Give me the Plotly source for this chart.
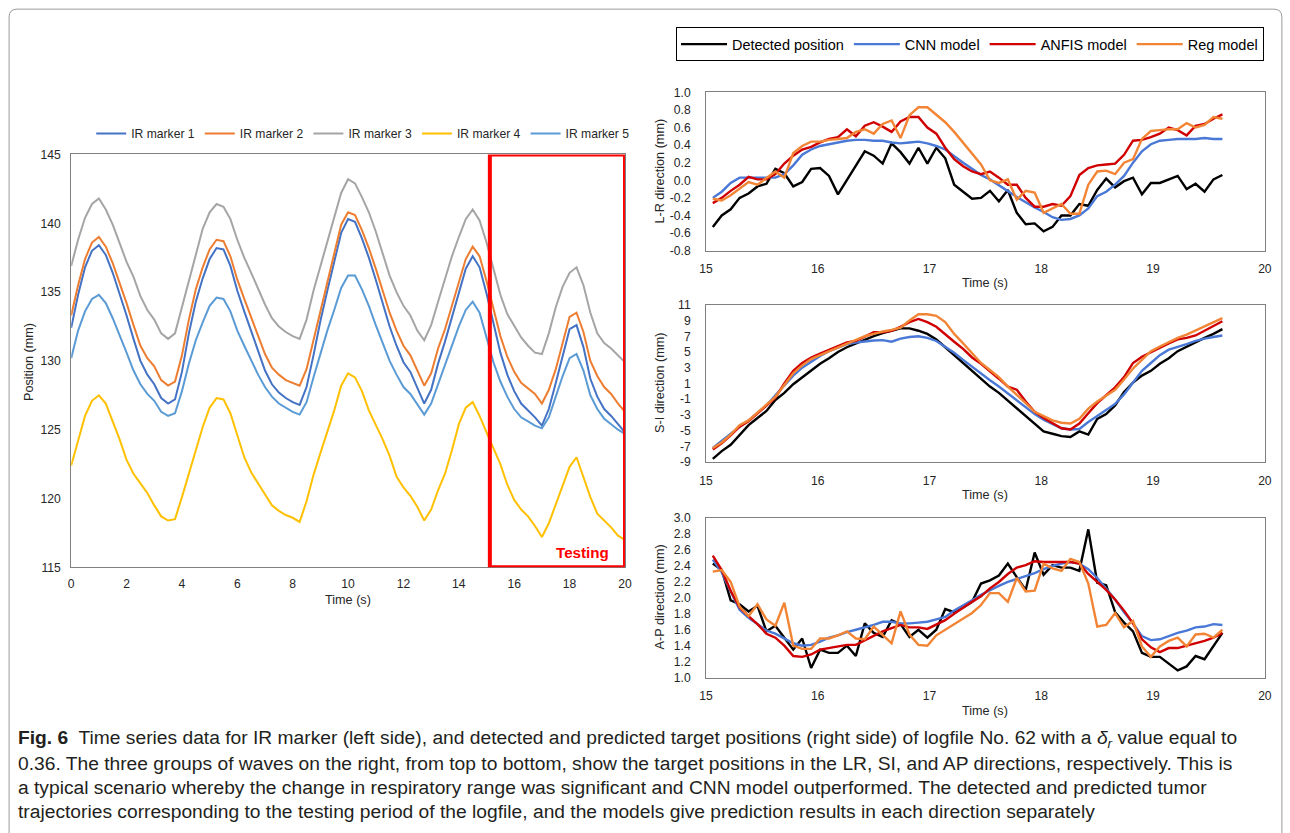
import plotly.graph_objects as go

# Figure size; the viewer shows the page (with its 8px body margin) scaled into the
# 1290x833 picture, so target picture positions are converted to figure paper fractions.
W, H = 1290, 833
PAGE_W, PAGE_H, BODY = W + 16, H + 16, 8
def px(t):
    return (t * PAGE_W / W - BODY) / W
def py(t):
    return 1 - (t * PAGE_H / H - BODY) / H
FS = PAGE_W / W  # font compensation

# ---------------- Left chart data (IR markers) ----------------
t_left = [i * 0.25 for i in range(81)]

ir_marker_1 = [132.4,134.8,136.8,138.0,138.4,137.7,136.4,134.9,133.3,131.6,
               130.0,129.0,128.3,127.3,126.9,127.2,129.2,132.0,134.3,136.0,
               137.4,138.2,138.1,136.9,135.1,133.6,132.2,130.7,129.3,128.3,
               127.7,127.3,127.0,126.8,128.1,130.4,132.9,135.1,137.3,139.3,
               140.3,140.1,138.9,137.5,135.9,134.2,132.5,131.1,129.9,129.2,
               128.0,126.9,127.9,129.8,131.4,133.2,135.1,136.7,137.6,136.8,
               134.9,132.7,130.6,129.0,127.8,126.9,126.4,125.9,125.3,126.5,
               128.4,130.3,132.3,132.6,131.0,128.7,127.4,126.5,126.0,125.4,
               124.8]
ir_marker_2 = [133.3,135.5,137.4,138.6,139.0,138.3,137.1,135.7,134.2,132.6,
               131.1,130.2,129.6,128.6,128.2,128.5,130.4,133.0,135.2,136.8,
               138.1,138.8,138.7,137.6,135.9,134.5,133.2,131.8,130.5,129.5,
               129.0,128.6,128.4,128.2,129.4,131.5,133.8,135.9,138.0,139.9,
               140.8,140.6,139.5,138.2,136.7,135.1,133.5,132.2,131.1,130.4,
               129.3,128.2,129.1,130.9,132.3,134.0,135.8,137.4,138.3,137.6,
               135.8,133.8,131.8,130.3,129.2,128.4,128.0,127.6,126.9,127.9,
               129.4,131.2,133.2,133.5,132.1,130.0,128.9,128.1,127.6,126.9,
               126.3]
ir_marker_3 = [136.9,138.8,140.4,141.4,141.8,141.0,139.9,138.6,137.2,136.1,
               134.7,133.7,133.0,132.0,131.6,132.0,133.9,136.0,137.9,139.6,
               140.8,141.4,141.2,140.3,138.8,137.5,136.4,135.2,134.1,133.1,
               132.5,132.1,131.8,131.6,133.0,135.1,136.9,138.8,140.5,142.2,
               143.2,142.9,141.9,140.8,139.4,137.8,136.2,135.0,134.0,133.3,
               132.2,131.5,132.6,134.3,136.0,137.6,139.0,140.3,141.0,140.2,
               138.6,136.6,134.8,133.4,132.5,131.7,131.1,130.6,130.5,132.0,
               133.9,135.4,136.4,136.8,135.5,133.5,132.0,131.3,130.9,130.4,
               129.9]
ir_marker_4 = [122.4,124.3,126.0,127.1,127.5,126.9,125.6,124.3,122.8,121.8,
               121.1,120.4,119.5,118.7,118.4,118.5,120.1,121.8,123.5,125.2,
               126.6,127.3,127.2,126.2,124.6,123.0,121.9,121.1,120.2,119.5,
               119.1,118.8,118.6,118.3,119.8,121.7,123.3,124.8,126.4,128.2,
               129.1,128.8,127.8,126.4,125.4,124.3,123.1,121.6,120.8,120.2,
               119.4,118.4,119.2,120.6,121.8,123.5,125.4,126.6,127.0,126.0,
               124.8,123.6,122.5,121.0,119.9,119.2,118.7,118.0,117.2,118.2,
               119.6,121.0,122.3,123.0,121.6,120.1,118.9,118.4,117.9,117.3,
               117.0]
ir_marker_5 = [130.2,132.2,133.6,134.5,134.8,134.2,133.1,131.9,130.6,129.3,
               128.3,127.6,127.1,126.3,126.0,126.2,127.8,129.8,131.5,132.8,
               134.0,134.6,134.5,133.6,132.2,131.1,130.0,129.0,128.1,127.4,
               126.9,126.6,126.3,126.1,127.0,128.8,130.6,132.2,133.7,135.3,
               136.2,136.2,135.2,134.0,132.6,131.3,130.0,129.0,128.1,127.6,
               126.8,126.1,126.9,128.3,129.6,131.0,132.5,133.7,134.3,133.5,
               131.6,129.9,128.5,127.4,126.5,125.9,125.6,125.3,125.1,125.9,
               127.4,128.9,130.2,130.5,129.3,127.5,126.5,125.8,125.4,125.0,
               124.7]
ir_names = ["IR marker 1", "IR marker 2", "IR marker 3", "IR marker 4", "IR marker 5"]
ir_colors = ["#4472C4", "#ED7D31", "#A5A5A5", "#FFC000", "#5B9BD5"]

left_xticks = [0, 2, 4, 6, 8, 10, 12, 14, 16, 18, 20]
left_yticks = [115, 120, 125, 130, 135, 140, 145]
testing_start = 15.12

# ---------------- Right charts data (testing period) ----------------
t_right = [round(15.06 + 0.08 * k, 2) for k in range(58)]

lr_detected = [-0.53,-0.40,-0.33,-0.20,-0.15,-0.07,-0.04,0.13,0.08,-0.07,
               -0.02,0.13,0.14,0.05,-0.16,0.00,0.17,0.33,0.28,0.19,
               0.42,0.32,0.19,0.37,0.19,0.37,0.25,-0.05,-0.13,-0.21,
               -0.20,-0.12,-0.24,-0.11,-0.37,-0.50,-0.49,-0.58,-0.53,-0.40,
               -0.40,-0.27,-0.29,-0.11,0.02,-0.08,-0.01,0.03,-0.16,-0.03,
               -0.03,0.01,0.05,-0.10,-0.04,-0.13,0.01,0.06]
lr_cnn = [-0.20,-0.13,-0.03,0.03,0.03,0.03,0.03,0.03,0.07,0.17,
          0.29,0.35,0.39,0.41,0.43,0.45,0.46,0.46,0.45,0.45,
          0.43,0.42,0.43,0.44,0.42,0.39,0.35,0.27,0.20,0.13,
          0.06,0.01,-0.06,-0.12,-0.19,-0.25,-0.31,-0.36,-0.42,-0.45,
          -0.44,-0.40,-0.32,-0.18,-0.13,-0.05,0.05,0.20,0.33,0.41,
          0.45,0.46,0.47,0.47,0.47,0.48,0.47,0.47]
lr_anfis = [-0.26,-0.20,-0.12,-0.05,0.04,0.01,0.01,0.07,0.19,0.28,
            0.35,0.38,0.43,0.47,0.49,0.58,0.50,0.62,0.66,0.61,
            0.55,0.67,0.72,0.72,0.60,0.53,0.37,0.24,0.16,0.10,
            0.07,0.10,0.03,-0.05,-0.05,-0.20,-0.30,-0.30,-0.27,-0.29,
            -0.18,0.06,0.14,0.17,0.18,0.19,0.29,0.45,0.46,0.49,
            0.53,0.60,0.57,0.51,0.62,0.64,0.70,0.75]
lr_reg = [-0.21,-0.23,-0.17,-0.10,-0.02,-0.05,0.03,0.10,0.03,0.31,
          0.39,0.44,0.44,0.46,0.47,0.48,0.55,0.58,0.53,0.64,
          0.68,0.48,0.74,0.83,0.83,0.74,0.66,0.55,0.43,0.30,
          0.18,0.00,-0.03,0.01,-0.22,-0.12,-0.14,-0.37,-0.32,-0.27,
          -0.38,-0.38,-0.05,0.10,0.11,0.07,0.20,0.24,0.47,0.56,
          0.57,0.58,0.58,0.65,0.60,0.63,0.72,0.70]

si_detected = [-8.6,-7.6,-6.8,-5.5,-4.3,-3.4,-2.5,-1.1,-0.2,0.9,
               1.8,2.7,3.5,4.2,5.0,5.6,6.1,6.6,7.0,7.4,
               7.7,8.0,8.0,7.7,7.3,6.6,5.6,4.6,3.6,2.6,
               1.7,0.6,-0.2,-1.2,-2.2,-3.2,-4.2,-5.1,-5.4,-5.7,
               -5.8,-5.1,-5.5,-3.5,-2.9,-1.8,-0.1,1.1,2.0,2.6,
               3.5,4.2,5.1,5.7,6.3,6.8,7.3,7.9]
si_cnn = [-7.2,-6.3,-5.3,-4.5,-3.7,-2.8,-1.8,-0.5,0.8,2.0,
          3.0,3.8,4.5,5.1,5.6,6.0,6.2,6.35,6.45,6.5,
          6.3,6.7,6.9,7.0,6.8,6.4,5.7,4.9,4.0,3.1,
          2.2,1.4,0.6,-0.3,-1.2,-2.1,-2.9,-3.6,-4.1,-4.7,
          -4.85,-4.8,-3.9,-3.1,-2.4,-1.6,-0.4,1.1,2.6,3.6,
          4.6,5.3,5.7,6.0,6.4,6.7,6.9,7.1]
si_anfis = [-7.4,-6.6,-5.6,-4.5,-3.8,-2.8,-1.8,-0.8,1.0,2.6,
            3.6,4.3,4.8,5.3,5.7,6.2,6.4,7.0,7.5,7.5,
            7.7,8.2,8.8,9.2,8.8,8.2,7.2,6.3,5.4,4.3,
            3.5,2.6,1.6,0.6,0.2,-1.3,-2.6,-3.4,-4.1,-4.7,
            -4.85,-4.1,-2.8,-1.5,-0.5,0.5,1.8,3.6,4.4,5.0,
            5.6,6.1,6.6,6.8,7.1,7.7,8.3,8.9]
si_reg = [-7.2,-6.5,-5.5,-4.3,-3.7,-2.7,-1.7,-0.7,0.8,2.3,
          3.3,4.1,4.6,5.1,5.6,6.1,6.6,7.0,7.3,7.6,
          7.8,8.1,9.0,9.8,9.8,9.6,8.8,7.3,6.1,4.8,
          3.6,2.7,1.8,0.6,-0.4,-1.5,-2.6,-3.2,-3.7,-4.0,
          -4.1,-3.5,-2.2,-1.3,-0.6,0.2,1.5,2.9,4.0,5.1,
          5.7,6.3,6.8,7.2,7.7,8.2,8.7,9.3]

ap_detected = [2.43,2.35,1.97,1.92,1.83,1.90,1.58,1.65,1.50,1.35,
               1.49,1.12,1.35,1.31,1.31,1.40,1.27,1.68,1.56,1.51,
               1.72,1.67,1.51,1.60,1.50,1.60,1.86,1.82,1.88,1.95,
               2.18,2.22,2.28,2.43,2.26,2.10,2.57,2.29,2.41,2.38,
               2.38,2.34,2.86,2.19,2.16,1.82,1.69,1.58,1.31,1.26,
               1.26,1.18,1.09,1.14,1.27,1.23,1.40,1.56]
ap_cnn = [2.48,2.32,2.08,1.85,1.75,1.67,1.59,1.55,1.49,1.43,
          1.40,1.41,1.45,1.50,1.53,1.57,1.60,1.63,1.66,1.70,
          1.70,1.68,1.68,1.69,1.70,1.73,1.76,1.84,1.90,1.97,
          2.04,2.10,2.15,2.20,2.24,2.28,2.31,2.36,2.40,2.43,
          2.45,2.43,2.36,2.25,2.12,1.98,1.82,1.68,1.52,1.47,
          1.48,1.52,1.56,1.59,1.63,1.64,1.67,1.66]
ap_anfis = [2.53,2.35,2.09,1.88,1.77,1.67,1.55,1.50,1.40,1.27,
            1.26,1.29,1.35,1.37,1.39,1.41,1.41,1.47,1.52,1.58,
            1.62,1.66,1.63,1.63,1.61,1.67,1.72,1.80,1.88,1.95,
            2.02,2.12,2.20,2.30,2.38,2.41,2.46,2.45,2.45,2.45,
            2.45,2.43,2.30,2.20,2.10,1.98,1.84,1.68,1.48,1.38,
            1.32,1.37,1.37,1.40,1.43,1.46,1.50,1.56]
ap_reg = [2.33,2.35,2.20,1.89,1.77,1.92,1.73,1.65,1.94,1.40,
          1.36,1.36,1.49,1.49,1.53,1.58,1.49,1.48,1.64,1.54,
          1.43,1.83,1.54,1.41,1.40,1.53,1.60,1.67,1.74,1.81,
          1.91,2.06,2.06,1.95,2.25,2.08,2.09,2.43,2.37,2.34,
          2.49,2.45,2.18,1.64,1.66,1.81,1.63,1.71,1.39,1.26,
          1.39,1.46,1.50,1.39,1.54,1.55,1.50,1.60]

model_names = ["Detected position", "CNN model", "ANFIS model", "Reg model"]
model_colors = ["#000000", "#4A78D6", "#D00000", "#F28535"]

right_xticks = [15, 16, 17, 18, 19, 20]
lr_ticks = [-0.8, -0.6, -0.4, -0.2, 0.0, 0.2, 0.4, 0.6, 0.8, 1.0]
lr_ticktext = ["-0.8", "-0.6", "-0.4", "-0.2", "0.0", "0.2", "0.4", "0.6", "0.8", "1.0"]
si_ticks = [-9, -7, -5, -3, -1, 1, 3, 5, 7, 9, 11]
si_ticktext = ["-9", "-7", "-5", "-3", "-1", "1", "3", "5", "7", "9", "11"]
ap_ticks = [1.0, 1.2, 1.4, 1.6, 1.8, 2.0, 2.2, 2.4, 2.6, 2.8, 3.0]
ap_ticktext = ["1.0", "1.2", "1.4", "1.6", "1.8", "2.0", "2.2", "2.4", "2.6", "2.8", "3.0"]

caption_lines = [
    "<b>Fig. 6</b>  Time series data for IR marker (left side), and detected and predicted target positions (right side) of logfile No. 62 with a <i>δ<sub>r</sub></i> value equal to",
    "0.36. The three groups of waves on the right, from top to bottom, show the target positions in the LR, SI, and AP directions, respectively. This is",
    "a typical scenario whereby the change in respiratory range was significant and CNN model outperformed. The detected and predicted tumor",
    "trajectories corresponding to the testing period of the logfile, and the models give prediction results in each direction separately",
]

FONT = "Liberation Sans, Arial, sans-serif"
TXT = "#262626"

fig = go.Figure()

# left chart traces
for name, color, ys in zip(ir_names, ir_colors,
                           [ir_marker_1, ir_marker_2, ir_marker_3, ir_marker_4, ir_marker_5]):
    fig.add_trace(go.Scatter(x=t_left, y=ys, mode="lines", name=name,
                             line=dict(color=color, width=2), xaxis="x", yaxis="y",
                             legend="legend"))

# right chart traces
panels = [("x2", "y2", [lr_detected, lr_cnn, lr_anfis, lr_reg]),
          ("x3", "y3", [si_detected, si_cnn, si_anfis, si_reg]),
          ("x4", "y4", [ap_detected, ap_cnn, ap_anfis, ap_reg])]
for pi, (xa, ya, series) in enumerate(panels):
    for name, color, ys in zip(model_names, model_colors, series):
        fig.add_trace(go.Scatter(x=t_right, y=ys, mode="lines", name=name,
                                 line=dict(color=color, width=2.4), xaxis=xa, yaxis=ya,
                                 legend="legend2", legendgroup=name, showlegend=(pi == 0)))

axis_common = dict(showline=True, mirror=True, linecolor="#808080", linewidth=1,
                   showgrid=False, zeroline=False, ticks="",
                   tickfont=dict(family=FONT, size=12 * FS, color=TXT))

layout = dict(
    width=W, height=H,
    margin=dict(l=0, r=0, t=0, b=0),
    paper_bgcolor="white", plot_bgcolor="white",
    font=dict(family=FONT, color=TXT),
    xaxis=dict(domain=[px(72), px(625)], range=[0, 20], tickvals=left_xticks,
               anchor="y", ticklabelstandoff=5, **axis_common),
    yaxis=dict(domain=[py(567), py(155)], range=[115, 145], tickvals=left_yticks,
               anchor="x", ticklabelstandoff=7, **axis_common),
    xaxis2=dict(domain=[px(706), px(1264)], range=[15, 20], tickvals=right_xticks,
                anchor="y2", ticklabelstandoff=7, **axis_common),
    yaxis2=dict(domain=[py(251), py(93)], range=[-0.8, 1.0], tickvals=lr_ticks,
                ticktext=lr_ticktext, anchor="x2", ticklabelstandoff=12, **axis_common),
    xaxis3=dict(domain=[px(706), px(1264)], range=[15, 20], tickvals=right_xticks,
                anchor="y3", ticklabelstandoff=7, **axis_common),
    yaxis3=dict(domain=[py(462), py(305)], range=[-9, 11], tickvals=si_ticks,
                ticktext=si_ticktext, anchor="x3", ticklabelstandoff=12, **axis_common),
    xaxis4=dict(domain=[px(706), px(1264)], range=[15, 20], tickvals=right_xticks,
                anchor="y4", ticklabelstandoff=7, **axis_common),
    yaxis4=dict(domain=[py(677), py(518)], range=[1.0, 3.0], tickvals=ap_ticks,
                ticktext=ap_ticktext, anchor="x4", ticklabelstandoff=12, **axis_common),
    legend=dict(orientation="h", x=px(92), y=py(134), xanchor="left", yanchor="middle",
                font=dict(family=FONT, size=12 * FS, color=TXT), bgcolor="rgba(0,0,0,0)",
                itemwidth=30, tracegroupgap=0),
    legend2=dict(orientation="h", x=px(676), y=py(28), xanchor="left", yanchor="top",
                 font=dict(family=FONT, size=14.3 * FS, color="#000000"), bgcolor="white",
                 bordercolor="#000000", borderwidth=1, itemwidth=46),
)
fig.update_layout(**layout)

# red "Testing" box on the left chart
fig.add_shape(type="rect", xref="x", yref="y", x0=testing_start, x1=20, y0=115, y1=145,
              line=dict(color="#FF0000", width=4), layer="above")
fig.add_annotation(x=18.48, y=116.1, xref="x", yref="y", text="<b>Testing</b>",
                   showarrow=False, font=dict(family=FONT, size=15 * FS, color="#FF0000"))

# axis titles
def ann(x, y, text, size=12.5, angle=0):
    fig.add_annotation(x=px(x), y=py(y), xref="paper", yref="paper", text=text,
                       showarrow=False, textangle=angle, xanchor="center", yanchor="middle",
                       font=dict(family=FONT, size=size * FS, color=TXT))

ann(30, 362, "Position (mm)", angle=-90)
ann(348, 600, "Time (s)")
ann(660, 172, "L-R direction (mm)", angle=-90)
ann(985, 283, "Time (s)")
ann(660, 383, "S-I direction (mm)", angle=-90)
ann(985, 495, "Time (s)")
ann(660, 597, "A-P direction (mm)", angle=-90)
ann(985, 710, "Time (s)")

# caption
for i, line in enumerate(caption_lines):
    fig.add_annotation(x=px(17), y=py(738 + i * 24.3), xref="paper", yref="paper",
                       text=line, showarrow=False, xanchor="left", yanchor="middle",
                       font=dict(family="Liberation Sans, sans-serif",
                                 size=19.0 * FS, color="#231F20"))

# outer frame (rounded top corners)
fx0, fy0, fx1 = 10, 10, 1281
path = (f"M {px(fx0)},{py(H + 20)} L {px(fx0)},{py(fy0 + 8)} "
        f"Q {px(fx0)},{py(fy0)} {px(fx0 + 8)},{py(fy0)} "
        f"L {px(fx1 - 8)},{py(fy0)} Q {px(fx1)},{py(fy0)} {px(fx1)},{py(fy0 + 8)} "
        f"L {px(fx1)},{py(H + 20)}")
fig.add_shape(type="path", xref="paper", yref="paper", path=path,
              line=dict(color="#9a9a9a", width=1))

fig.write_html("out.html")
